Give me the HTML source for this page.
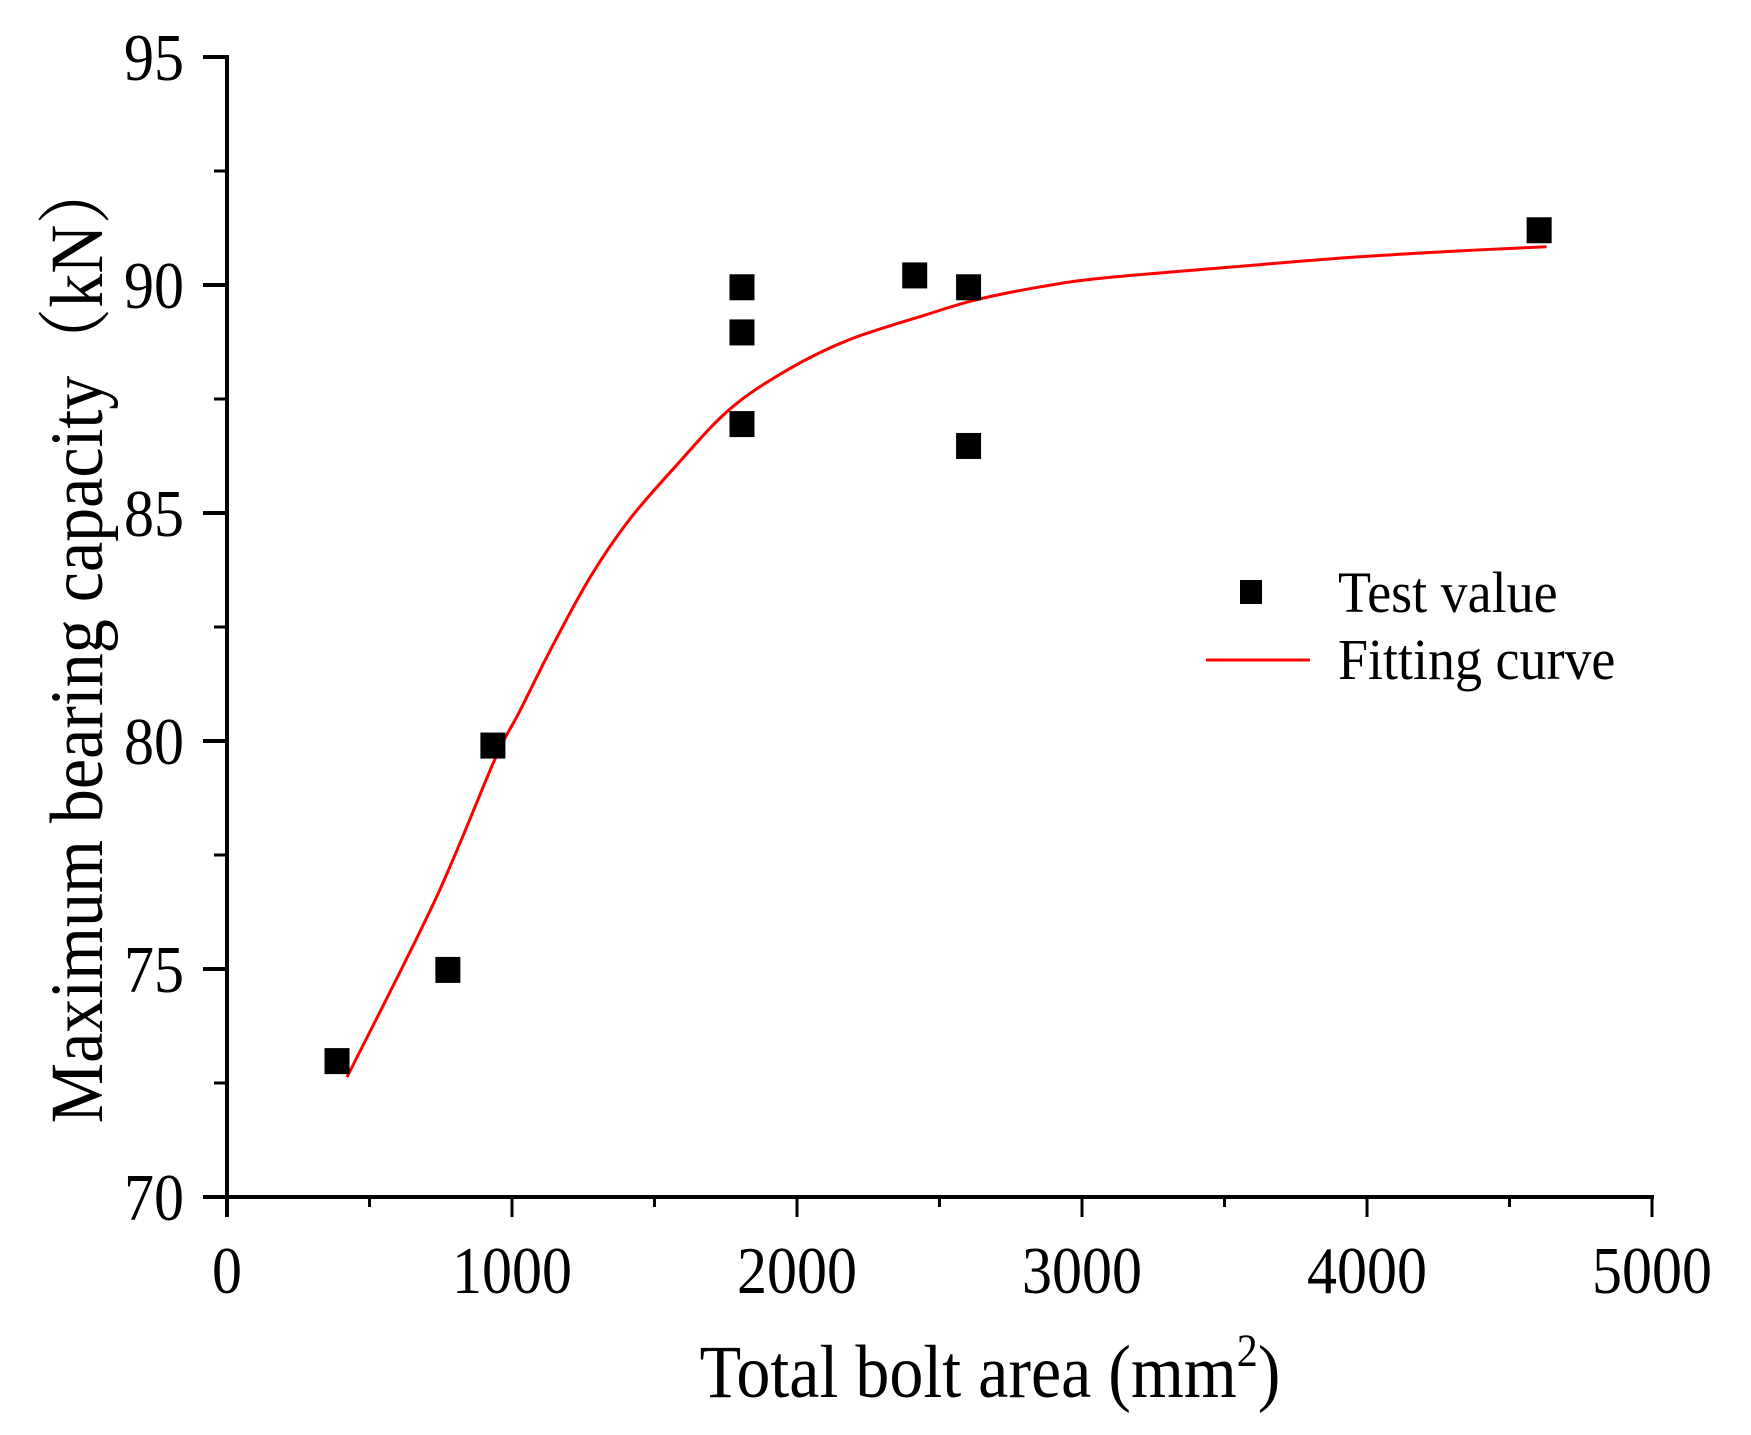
<!DOCTYPE html>
<html><head><meta charset="utf-8"><style>
html,body{margin:0;padding:0;background:#fff;}
svg{display:block;}
text{font-family:"Liberation Serif","Noto Serif CJK SC",serif;fill:#000;}
</style></head><body>
<svg id="chart" width="1751" height="1435" viewBox="0 0 1751 1435" xmlns="http://www.w3.org/2000/svg">
<g id="axes"></g>
<path id="fit" fill="none" stroke="#ff0000" stroke-width="3"></path>
<g id="pts"></g>
<text transform="translate(990,1397) scale(1,1.1)" font-size="68" text-anchor="middle">Total bolt area (mm<tspan font-size="42" dy="-28">2</tspan><tspan dy="28">)</tspan></text>
<text transform="translate(102,640) rotate(-90) scale(1,1.1)" font-size="68" text-anchor="middle">Maximum bearing capacity（kN）</text>
<g>
<rect x="1240" y="580" width="22" height="24" fill="#000"></rect>
<text transform="translate(1338,612) scale(1,1.08)" font-size="54">Test value</text>
<line x1="1206" y1="660" x2="1310" y2="660" stroke="#ff0000" stroke-width="3"></line>
<text transform="translate(1338,679) scale(1,1.08)" font-size="54">Fitting curve</text>
</g>
</svg>
<script>
const xTicks = [0, 1000, 2000, 3000, 4000, 5000];
const yTicks = [70, 75, 80, 85, 90, 95];
const testX = [386, 775, 933, 1807, 1807, 1807, 2413, 2602, 2602, 4604];
const testY = [72.98, 74.98, 79.9, 89.95, 88.96, 86.95, 90.21, 89.95, 86.47, 91.2];
const fitX = [421, 730, 940, 1026, 1140, 1275, 1410, 1572, 1761, 1964, 2179, 2449, 2625, 2854, 3070, 3535, 3929, 4300, 4630];
const fitY = [72.63, 76.51, 79.6, 80.64, 82.06, 83.6, 84.84, 86.01, 87.26, 88.13, 88.79, 89.34, 89.67, 89.96, 90.15, 90.4, 90.6, 90.74, 90.84];

const X0 = 227, XS = 0.285, Y0 = 1197, YS = 45.6;
function sx(v){ return X0 + v * XS; }
function sy(v){ return Y0 - (v - 70) * YS; }
const NS = 'http://www.w3.org/2000/svg';
function mk(tag, attrs, parent){
  const e = document.createElementNS(NS, tag);
  for (const k in attrs) e.setAttribute(k, attrs[k]);
  parent.appendChild(e);
  return e;
}
const axes = document.getElementById('axes');
let el;
el = mk('line', {x1: sx(0), y1: sy(95) - 2, x2: sx(0), y2: Y0 + 20, stroke: '#000', 'stroke-width': 4}, axes);


el = mk('line', {x1: sx(0) - 24, y1: Y0, x2: sx(5000) + 2, y2: Y0, stroke: '#000', 'stroke-width': 4}, axes);


for (let i = 0; i < xTicks.length; i++) {
  const v = xTicks[i];
  el = mk('line', {x1: sx(v), y1: Y0, x2: sx(v), y2: Y0 + 20, stroke: '#000', 'stroke-width': 3}, axes);
  
  
  if (i < xTicks.length - 1) {
    el = mk('line', {x1: sx(v + 500), y1: Y0, x2: sx(v + 500), y2: Y0 + 10, stroke: '#000', 'stroke-width': 3}, axes);
    
    
  }
  el = mk('text', {transform: 'translate(' + sx(v) + ',1293) scale(1,1.12)', 'font-size': 60, 'text-anchor': 'middle'}, axes);
  el.textContent = v;
  
  
}
for (let i = 0; i < yTicks.length; i++) {
  const v = yTicks[i];
  el = mk('line', {x1: sx(0) - 24, y1: sy(v), x2: sx(0), y2: sy(v), stroke: '#000', 'stroke-width': 4}, axes);
  
  
  if (i < yTicks.length - 1) {
    el = mk('line', {x1: sx(0) - 13, y1: sy(v + 2.5), x2: sx(0), y2: sy(v + 2.5), stroke: '#000', 'stroke-width': 3}, axes);
    
    
  }
  el = mk('text', {transform: 'translate(184,' + (sy(v) + 23) + ') scale(1,1.12)', 'font-size': 60, 'text-anchor': 'end'}, axes);
  el.textContent = v;
  
  
}
const P = fitX.map((x, i) => [sx(x), sy(fitY[i])]);
let d = 'M' + P[0][0] + ',' + P[0][1];
for (let i = 0; i < P.length - 1; i++) {
  const p0 = P[Math.max(0, i - 1)], p1 = P[i], p2 = P[i + 1], p3 = P[Math.min(P.length - 1, i + 2)];
  const c1 = [p1[0] + (p2[0] - p0[0]) / 6, p1[1] + (p2[1] - p0[1]) / 6];
  const c2 = [p2[0] - (p3[0] - p1[0]) / 6, p2[1] - (p3[1] - p1[1]) / 6];
  d += ' C' + c1[0] + ',' + c1[1] + ' ' + c2[0] + ',' + c2[1] + ' ' + p2[0] + ',' + p2[1];
}
document.getElementById('fit').setAttribute('d', d);
const pts = document.getElementById('pts');
for (let i = 0; i < testX.length; i++) {
  el = mk('rect', {x: sx(testX[i]) - 12.5, y: sy(testY[i]) - 13, width: 25, height: 26, fill: '#000'}, pts);
  
  
}
</script>
</body></html>
